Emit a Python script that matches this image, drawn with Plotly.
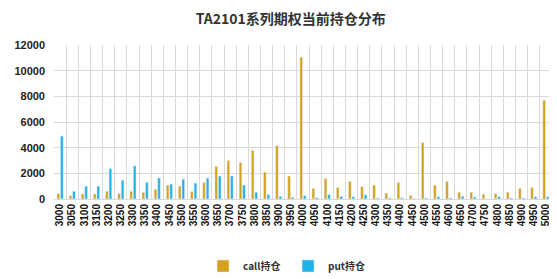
import plotly.graph_objects as go

strikes = [str(s) for s in range(3000, 5001, 50)]
call_oi = [420, 260, 400, 400, 600, 420, 600, 520, 760, 1080, 1000,
           580, 1290, 2530, 3000, 2840, 3790, 2100, 4160, 1790, 11050,
           820, 1600, 890, 1370, 970, 1080, 450, 1290, 290, 4390,
           1080, 1370, 530, 530, 370, 420, 530, 820, 890, 7690]
put_oi = [4900, 600, 1000, 1000, 2370, 1470, 2580, 1300, 1630, 1160, 1550,
          1240, 1630, 1790, 1790, 1080, 530, 340, 210, 130, 260,
          100, 340, 210, 180, 340, 80, 80, 100, 30, 80,
          180, 80, 210, 160, 0, 180, 80, 80, 180, 180]
y_ticks = [0, 2000, 4000, 6000, 8000, 10000, 12000]

CJK = "Noto Sans CJK SC"
fig = go.Figure()
fig.add_trace(go.Bar(x=strikes, y=call_oi, name="<b>call持仓</b>", marker_color="#D4A21C"))
fig.add_trace(go.Bar(x=strikes, y=put_oi, name="<b>put持仓</b>", marker_color="#1FB2E6"))

# page body has an 8px margin, so the figure is sized to fit the remaining window
fig.update_layout(
    width=549, height=271,
    margin=dict(l=46, r=5, t=37, b=80, autoexpand=False),
    paper_bgcolor="white", plot_bgcolor="white",
    barmode="group", bargap=0.42, bargroupgap=0.25,
    title=dict(text="<b>TA2101系列期权当前持仓分布</b>", x=0.515, xanchor="center",
               y=0.958, yanchor="middle", font=dict(family=CJK, size=14, color="#333333", weight="bold")),
    legend=dict(orientation="h", x=0.47, xanchor="center", yref="container", y=0.048, yanchor="middle",
                font=dict(family=CJK, size=10, color="#333333", weight="bold"),
                itemwidth=30, tracegroupgap=0, entrywidth=40),
    font=dict(family=CJK),
)
fig.update_xaxes(type="category", tickson="boundaries", showgrid=True, gridcolor="#D9D9D9",
                 gridwidth=1, tickangle=-90, ticks="", range=[-0.5, len(strikes) - 0.5],
                 automargin=False,
                 tickfont=dict(family="Liberation Sans", size=10, color="#111111", weight="bold"),
                 showline=True, linecolor="#D9D9D9")
fig.update_yaxes(range=[0, 12000], tickvals=y_ticks, tickformat="d", showgrid=True, gridcolor="#D9D9D9",
                 automargin=False,
                 tickfont=dict(family="Liberation Sans", size=11, color="#222222", weight="bold"),
                 zeroline=False, ticks="", ticklabelstandoff=8)

fig.write_html("out.html")
